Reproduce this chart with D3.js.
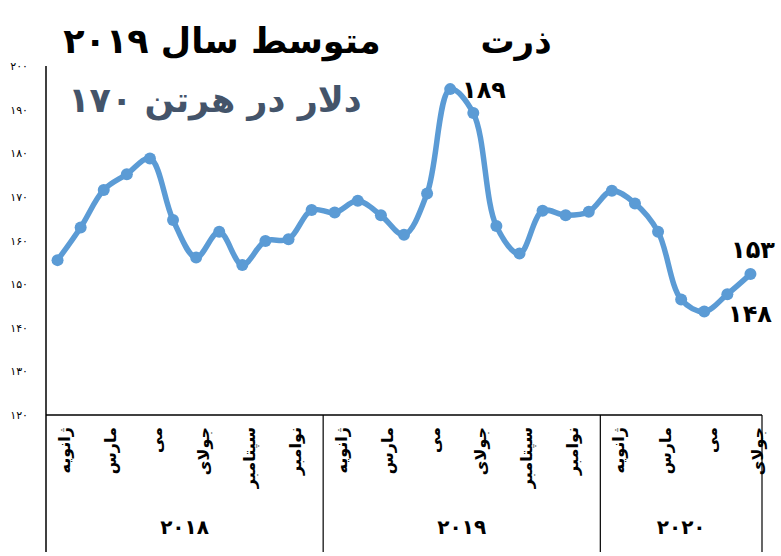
<!DOCTYPE html>
<html>
<head>
<meta charset="utf-8">
<script src="https://cdn.jsdelivr.net/npm/d3@7"></script>
<style>
  body { margin: 0; background: #fff; }
  svg text { font-family: "DejaVu Sans", sans-serif; }
</style>
</head>
<body>
<svg id="chart" width="781" height="556"></svg>
<script>
// monthly price, Jan 2018 .. Jul 2020
const years = ["2018", "2019", "2020"];
const monthsPerYear = [12, 12, 7];
const monthNames = ["ژانویه", "فوریه", "مارس", "آوریل", "می", "ژوئن",
  "جولای", "اوت", "سپتامبر", "اکتبر", "نوامبر", "دسامبر"];
const prices = [155.5, 163.0, 171.6, 175.2, 178.8, 164.7, 156.1, 162.0, 154.4, 159.9, 160.3, 167.0,
  166.4, 169.1, 165.8, 161.3, 170.8, 194.7, 189.2, 163.3, 157.0, 166.8, 165.8, 166.6,
  171.4, 168.5, 162.0, 146.5, 143.7, 147.7, 152.3];
const yTicks = [120, 130, 140, 150, 160, 170, 180, 190, 200];
const calloutIndex = [18, 30, 29];
const calloutText = ["189", "153", "148"];

const fa = s => String(s).replace(/\d/g, d => "۰۱۲۳۴۵۶۷۸۹"[d]);

const svg = d3.select("#chart");
const blue = "#5B9BD5";

let x = d3.scaleBand().domain(d3.range(prices.length)).range([46, 762]);
let y = d3.scaleLinear().domain([120, 200]).range([415, 66]);
const cx = i => x(i) + x.bandwidth() / 2;

// y axis
let yAxis = svg.append("g")
  .attr("transform", "translate(46,0)")
  .call(d3.axisLeft(y).tickValues(yTicks).tickSize(0).tickPadding(18).tickFormat(fa));
yAxis.select(".domain").remove();
yAxis.selectAll("text").style("font-size", "11px").attr("fill", "#000");

// frame lines for category axis
svg.append("line").attr("x1", 46).attr("x2", 46).attr("y1", 66).attr("y2", 552)
  .attr("stroke", "#000").attr("stroke-width", 1.5);
svg.append("line").attr("x1", 46).attr("x2", 762).attr("y1", 415).attr("y2", 415)
  .attr("stroke", "#000").attr("stroke-width", 1.5);

let start = 0;
years.forEach(function (yr, k) {
  let n = monthsPerYear[k];
  let x0 = x(start), x1 = x(start + n - 1) + x.bandwidth();
  svg.append("line").attr("x1", x1).attr("x2", x1).attr("y1", 415).attr("y2", 552)
    .attr("stroke", "#000").attr("stroke-width", 1.2);
  svg.append("text")
    .attr("x", (x0 + x1) / 2).attr("y", 527)
    .attr("text-anchor", "middle").attr("dominant-baseline", "central")
    .style("font-size", "20px").style("font-weight", "bold")
    .text(fa(yr));
  for (let m = 0; m < n; m += 2) {
    let px = cx(start + m) + 7;
    svg.append("text")
      .attr("transform", "translate(" + px + ",427) rotate(-90)")
      .attr("text-anchor", "end").attr("dominant-baseline", "central")
      .style("font-size", "16px").style("font-weight", "bold")
      .text(monthNames[m]);
  }
  start += n;
});

// price line
let line = d3.line()
  .x((d, i) => cx(i))
  .y(d => y(d))
  .curve(d3.curveCatmullRom.alpha(0.5));

svg.append("path").datum(prices)
  .attr("d", line)
  .attr("fill", "none").attr("stroke", blue).attr("stroke-width", 5.5)
  .attr("stroke-linejoin", "round");

svg.append("g").selectAll("circle").data(prices).join("circle")
  .attr("cx", (d, i) => cx(i)).attr("cy", d => y(d)).attr("r", 6)
  .attr("fill", blue);

// callouts
const calloutPos = [[484, 90], [753, 250], [750, 314]];
calloutIndex.forEach(function (idx, k) {
  svg.append("text")
    .attr("x", calloutPos[k][0]).attr("y", calloutPos[k][1])
    .attr("text-anchor", "middle").attr("dominant-baseline", "central")
    .style("font-size", "24px").style("font-weight", "bold")
    .text(fa(calloutText[k]));
});

// titles
svg.append("text").attr("x", 516).attr("y", 41)
  .attr("text-anchor", "middle").attr("dominant-baseline", "central")
  .style("font-size", "34px").style("font-weight", "bold")
  .text("ذرت");
svg.append("text").attr("x", 222).attr("y", 41)
  .attr("text-anchor", "middle").attr("dominant-baseline", "central")
  .style("font-size", "35px").style("font-weight", "bold")
  .text("متوسط سال " + fa("2019"));
svg.append("text").attr("x", 215).attr("y", 100)
  .attr("text-anchor", "middle").attr("dominant-baseline", "central")
  .style("font-size", "35px").style("font-weight", "bold").attr("fill", "#44546A")
  .text(fa("170") + " دلار در هرتن");
</script>
</body>
</html>
